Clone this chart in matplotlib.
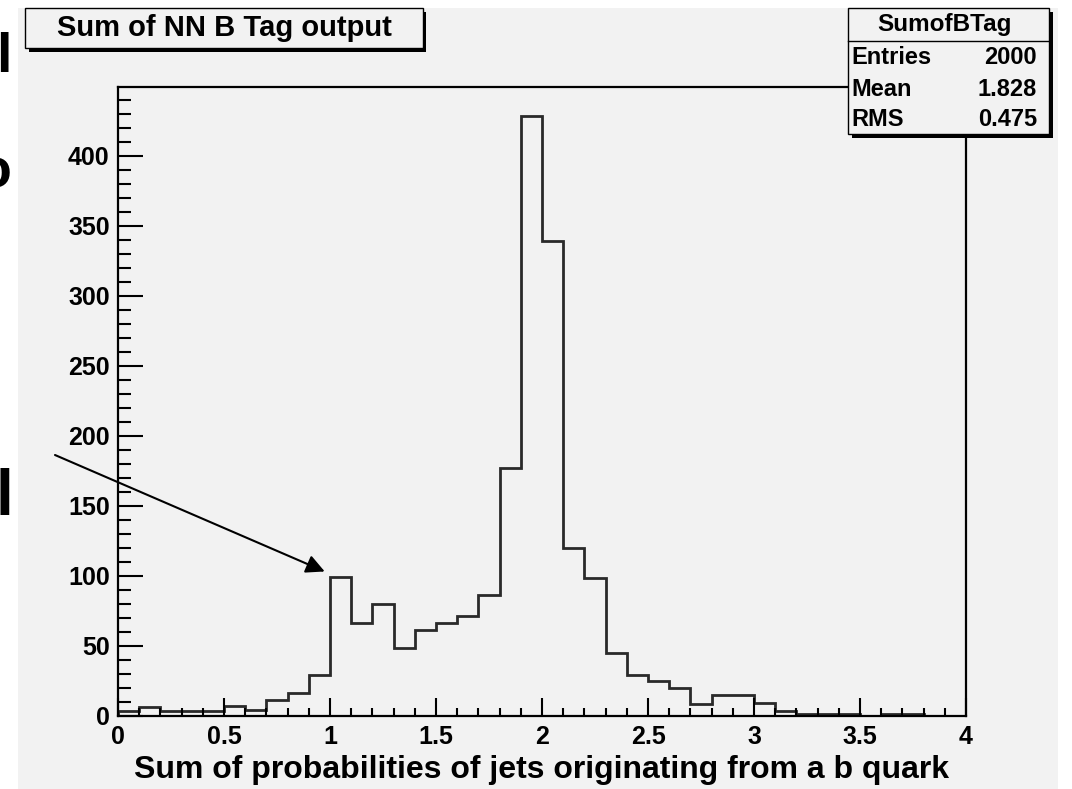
import matplotlib
matplotlib.use("Agg")
import matplotlib.pyplot as plt
import numpy as np
from matplotlib.patches import Rectangle
from matplotlib.lines import Line2D
from matplotlib.ticker import MultipleLocator

# Histogram contents: 40 bins of width 0.1 between 0 and 4
x_min, x_max, n_bins = 0.0, 4.0, 40
counts = [3, 6, 3, 3, 3, 7, 4, 11, 16, 29,
          99, 66, 80, 48, 61, 66, 71, 86, 177, 428,
          339, 120, 98, 45, 29, 25, 20, 8, 15, 15,
          9, 3, 1, 1, 1, 0, 1, 1, 0, 0]

hist_name = "SumofBTag"
hist_title = "Sum of NN B Tag output"
x_title = "Sum of probabilities of jets originating from a b quark"
stat_labels = ["Entries", "Mean", "RMS"]
stat_values = ["2000", "1.828", "0.475"]

W, H = 1072, 789
PAD = "#f2f2f2"
FONT = "Liberation Sans"

fig = plt.figure(figsize=(W / 100, H / 100), dpi=100, facecolor="white")


def fx(px):
    return px / W


def fy(py):
    return 1 - py / H


# canvas pad
fig.add_artist(Rectangle((fx(18), 0), fx(1058) - fx(18), fy(8), transform=fig.transFigure,
                         facecolor=PAD, edgecolor="none", zorder=0))

# frame: y range is 5% above the highest bin
y_max = 1.05 * max(counts)
ax = fig.add_axes([fx(118), fy(715.7), fx(966) - fx(118), fy(86.5) - fy(715.7)])
ax.set_facecolor(PAD)
edges = np.linspace(x_min, x_max, n_bins + 1)
ax.stairs(counts, edges, color="#2a2a2a", linewidth=2.0)
ax.set_xlim(x_min, x_max)
ax.set_ylim(0, y_max)
for s in ax.spines.values():
    s.set_linewidth(1.6)
    s.set_color("black")

ax.xaxis.set_major_locator(MultipleLocator(0.5))
ax.xaxis.set_minor_locator(MultipleLocator(0.1))
ax.yaxis.set_major_locator(MultipleLocator(50))
ax.yaxis.set_minor_locator(MultipleLocator(10))
ax.tick_params(which="both", direction="in", top=False, right=False, color="black", width=1.5)
ax.tick_params(axis="x", which="major", length=13, pad=7)
ax.tick_params(axis="x", which="minor", length=6)
ax.tick_params(axis="y", which="major", length=18, pad=6)
ax.tick_params(axis="y", which="minor", length=9)
ax.set_xticks(ax.get_xticks())
ax.set_xticklabels([f"{v:g}" for v in ax.get_xticks()])
ax.set_xlim(x_min, x_max)
for lab in ax.get_xticklabels() + ax.get_yticklabels():
    lab.set_fontfamily(FONT)
    lab.set_fontweight("bold")
    lab.set_fontsize(18)

fig.text(fx(542), fy(770), x_title, ha="center", va="center",
         fontfamily=FONT, fontweight="bold", fontsize=23)


# title box with shadow
def shadow_box(x0, y0, x1, y1, shadow=3.5):
    fig.add_artist(Rectangle((fx(x0 + shadow), fy(y1 + shadow)), fx(x1 - x0), fy(y0) - fy(y1),
                             transform=fig.transFigure, facecolor="black", edgecolor="none", zorder=5))
    fig.add_artist(Rectangle((fx(x0), fy(y1)), fx(x1 - x0), fy(y0) - fy(y1),
                             transform=fig.transFigure, facecolor=PAD, edgecolor="black",
                             linewidth=1.0, zorder=6))


shadow_box(25, 8, 423, 48)
fig.text(fx(224), fy(28.5), hist_title, ha="center", va="center",
         fontfamily=FONT, fontweight="bold", fontsize=21, zorder=7)

# statistics box
shadow_box(848, 8, 1049, 134)
fig.add_artist(Line2D([fx(848), fx(1049)], [fy(41), fy(41)], transform=fig.transFigure,
                      color="black", linewidth=1.0, zorder=7))
fig.text(fx(944), fy(25), hist_name, ha="center", va="center",
         fontfamily=FONT, fontweight="bold", fontsize=17.5, zorder=7)
for i, (lab, val) in enumerate(zip(stat_labels, stat_values)):
    yy = fy(58 + 31 * i)
    fig.text(fx(851), yy, lab, ha="left", va="center",
             fontfamily=FONT, fontweight="bold", fontsize=17, zorder=7)
    fig.text(fx(1037), yy, val, ha="right", va="center",
             fontfamily=FONT, fontweight="bold", fontsize=17, zorder=7)

# arrow pointing at the bin just above 1
ax.annotate("", xy=(0.975, 103), xycoords="data",
            xytext=(55, H - 455), textcoords="figure pixels",
            arrowprops=dict(arrowstyle="-|>", color="black", lw=1.5,
                            mutation_scale=28, shrinkA=0, shrinkB=0),
            annotation_clip=False)

# pieces of surrounding slide text at the left edge
fig.text(fx(-4), fy(72), "l", ha="left", va="baseline", fontfamily=FONT,
         fontweight="bold", fontsize=40)
fig.text(fx(-22), fy(188), "o", ha="left", va="baseline", fontfamily=FONT,
         fontweight="bold", fontsize=40)
fig.text(fx(-4), fy(515), "l", ha="left", va="baseline", fontfamily=FONT,
         fontweight="bold", fontsize=46)

fig.savefig("out.png", dpi=100, facecolor="white")
